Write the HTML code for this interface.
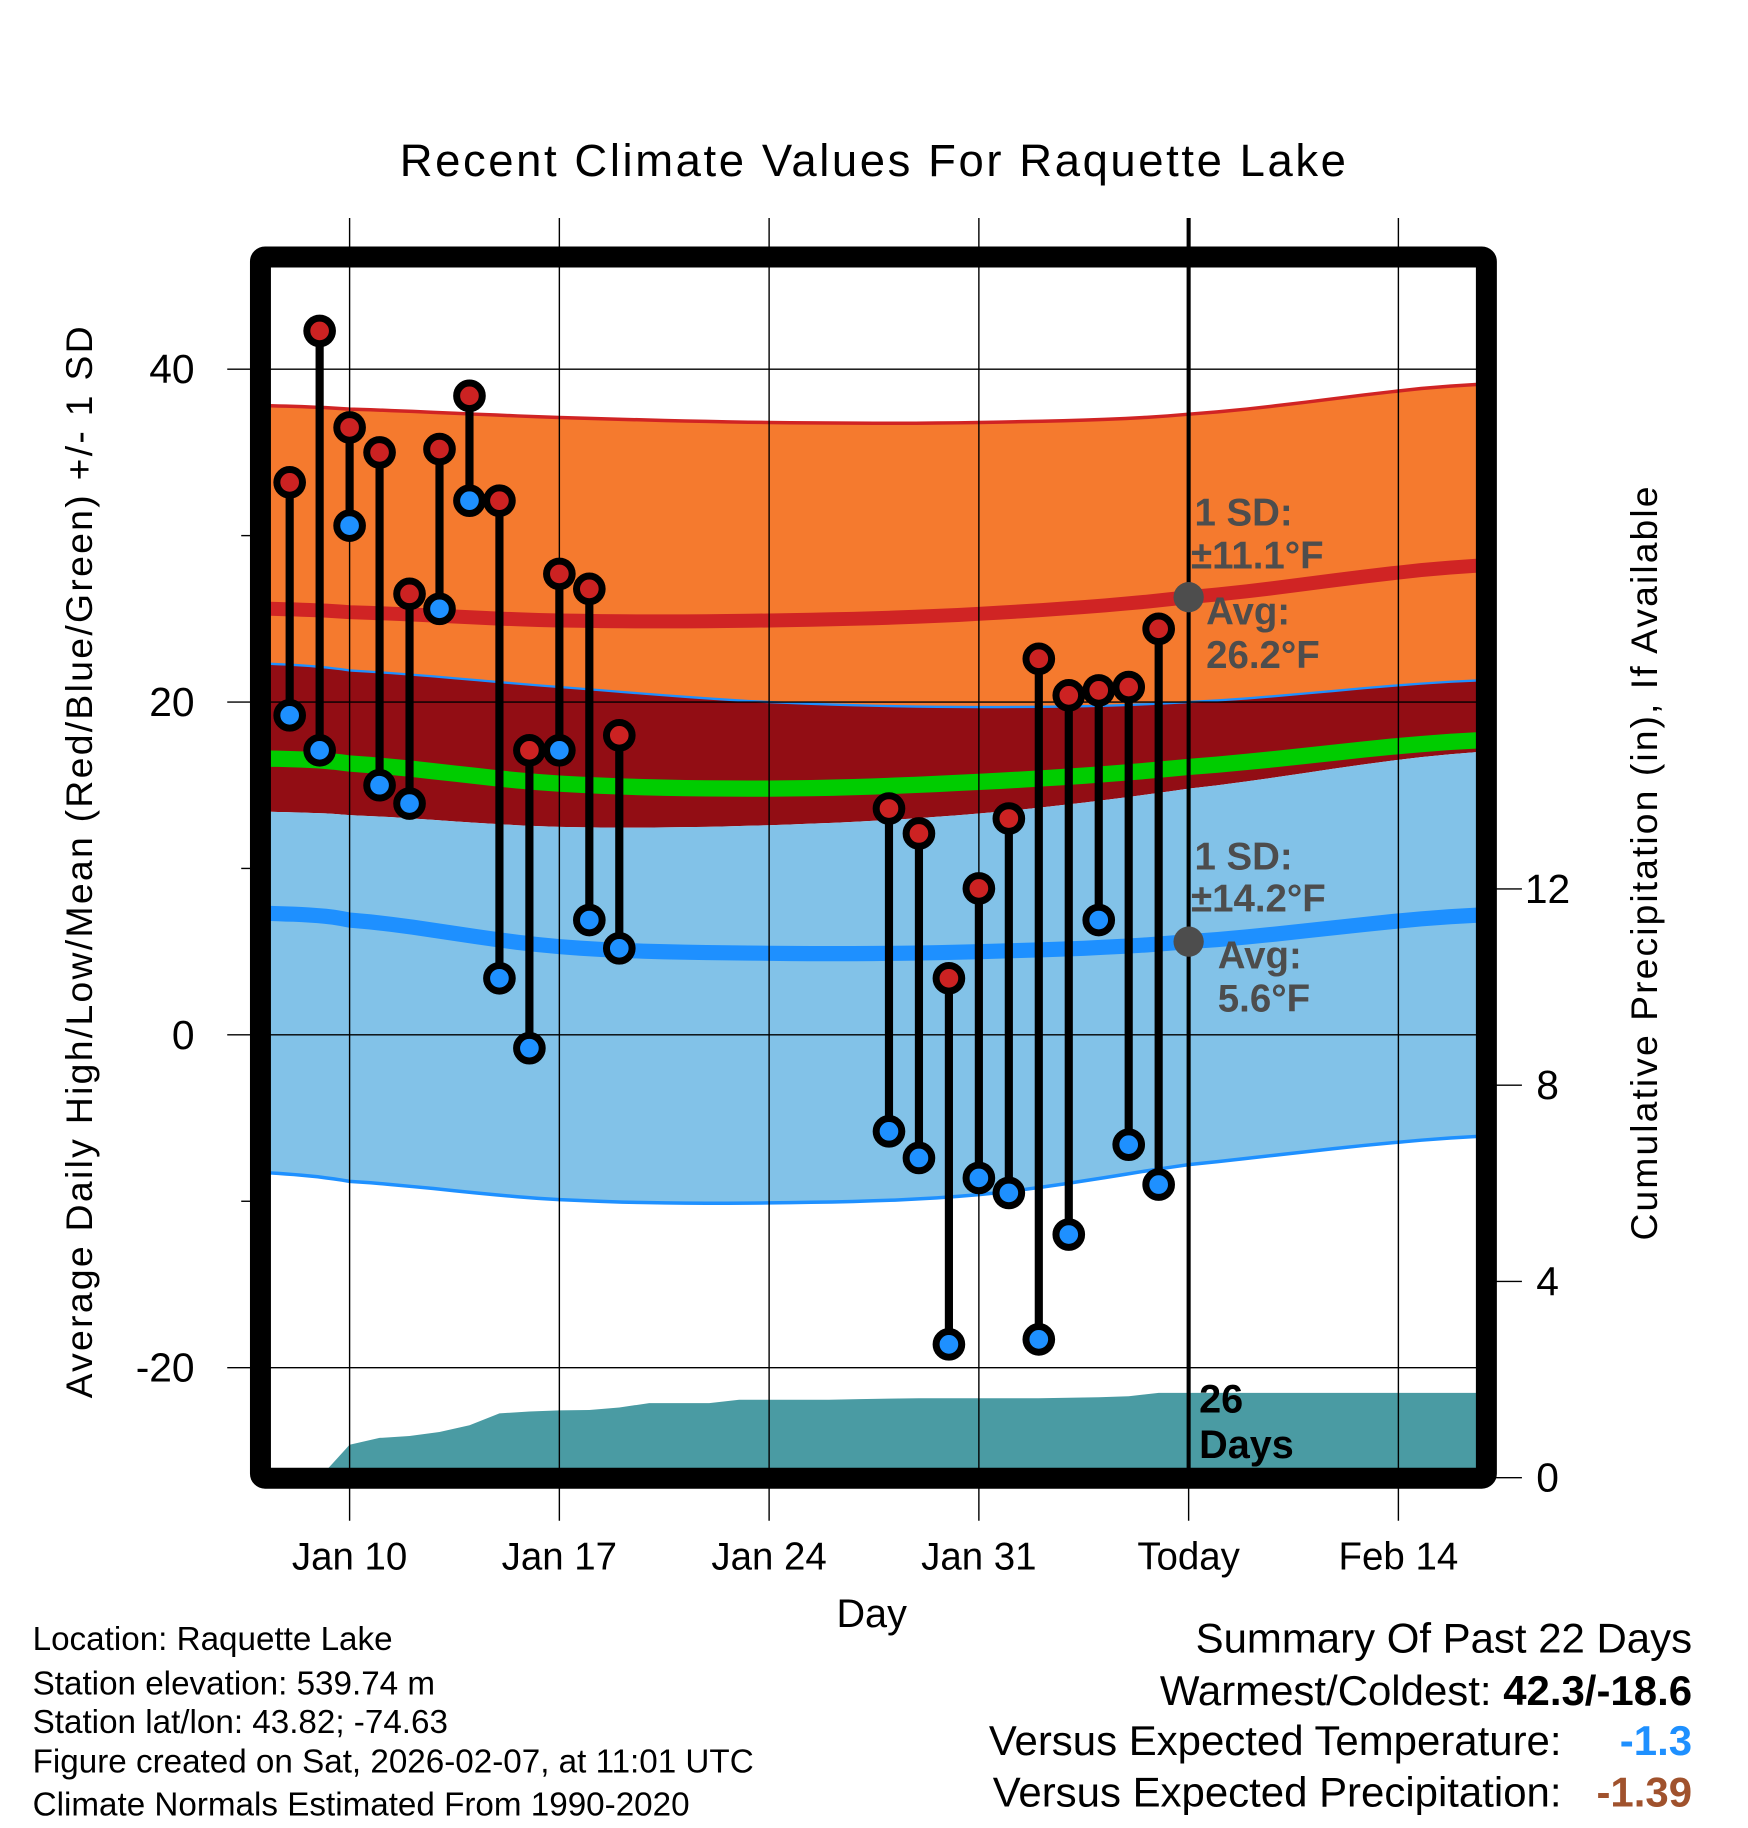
<!DOCTYPE html>
<html><head><meta charset="utf-8"><style>
html,body{margin:0;padding:0;background:#fff;}
svg{display:block;font-family:"Liberation Sans",Arial,sans-serif;}
</style></head><body>
<svg id="chart" width="1748" height="1828" viewBox="0 0 1500 1568.6" xmlns="http://www.w3.org/2000/svg">
<defs><clipPath id="plotclip"><rect x="232" y="232" width="1036" height="1028"/></clipPath></defs>
<rect x="0" y="0" width="1500" height="1568.6" fill="#fff"/>
<g id="layers" clip-path="url(#plotclip)"></g>
<g id="grid"></g>
<g id="marks"></g>
<g id="frame"></g>
<text x="749" y="151" font-size="39" text-anchor="middle" textLength="812">Recent Climate Values For Raquette Lake</text>
<text transform="translate(79,740) rotate(-90)" font-size="32" text-anchor="middle" textLength="920">Average Daily High/Low/Mean (Red/Blue/Green) +/- 1 SD</text>
<text transform="translate(1422,741) rotate(-90)" font-size="32" text-anchor="middle" textLength="647">Cumulative Precipitation (in), If Available</text>
<text x="748" y="1396" font-size="34" text-anchor="middle">Day</text>
<g font-size="28.5">
<text x="28" y="1416">Location: Raquette Lake</text>
<text x="28" y="1454">Station elevation: 539.74 m</text>
<text x="28" y="1487">Station lat/lon: 43.82; -74.63</text>
<text x="28" y="1521">Figure created on Sat, 2026-02-07, at 11:01 UTC</text>
<text x="28" y="1558">Climate Normals Estimated From 1990-2020</text>
</g>
<g font-size="36" text-anchor="end">
<text x="1452" y="1418">Summary Of Past 22 Days</text>
<text x="1452" y="1463">Warmest/Coldest: <tspan font-weight="bold">42.3/-18.6</tspan></text>
<text x="1340" y="1506">Versus Expected Temperature:</text>
<text x="1452" y="1506" fill="#1e90ff" font-weight="bold">-1.3</text>
<text x="1340" y="1550">Versus Expected Precipitation:</text>
<text x="1452" y="1550" fill="#a0522d" font-weight="bold">-1.39</text>
</g>
</svg>
<script>
// days relative to Jan 10
const obsDays=[-2,-1,0,1,2,3,4,5,6,7,8,9,18,19,20,21,22,23,24,25,26,27];
const obsHigh=[33.2,42.3,36.5,35.0,26.5,35.2,38.4,32.1,17.1,27.7,26.8,18.0,13.6,12.1,3.4,8.8,13.0,22.6,20.4,20.7,20.9,24.4];
const obsLow=[19.2,17.1,30.6,15.0,13.9,25.6,32.1,3.4,-0.8,17.1,6.9,5.2,-5.8,-7.4,-18.6,-8.6,-9.5,-18.3,-12.0,6.9,-6.6,-9.0];
const normDays=[-2.65,0,7,14,21,28,37.7];
const hiTop=[37.8,37.6,37.1,36.8,36.8,37.3,39.1];
const hiAvg=[25.6,25.4,24.9,24.9,25.3,26.3,28.2];
const hiBot=[22.3,21.9,20.9,20.0,19.7,20.0,21.3];
const meanAvg=[16.6,16.3,15.1,14.8,15.2,16.1,17.7];
const loTop=[13.4,13.2,12.5,12.6,13.3,14.8,17.0];
const loAvg=[7.3,6.9,5.3,4.9,5.0,5.6,7.2];
const loBot=[-8.3,-8.8,-9.9,-10.1,-9.6,-7.8,-6.1];
const precipStartDay=-1;
const precipCum=[0,0.67,0.81,0.85,0.93,1.07,1.31,1.35,1.37,1.38,1.43,1.52,1.52,1.52,1.59,1.59,1.59,1.59,1.60,1.61,1.62,1.62,1.62,1.62,1.62,1.63,1.64,1.66,1.73];
const xTickDays=[0,7,14,21,28,35];
const xTickLabels=["Jan 10","Jan 17","Jan 24","Jan 31","Today","Feb 14"];
const yTicks=[-20,0,20,40];
const y2Ticks=[0,4,8,12];

const NS="http://www.w3.org/2000/svg";
const X=d=>300+d*25.714;
const Y=v=>888-v*14.28;
const Y2=p=>1268-p*42.1;
function mk(tag,attrs,parent){const e=document.createElementNS(NS,tag);for(const k in attrs)e.setAttribute(k,attrs[k]);parent.appendChild(e);return e;}
function curvePts(vals){const pts=[];for(let i=0;i<normDays.length-1;i++){for(let s=0;s<10;s++){const t=s/10;const p0=vals[Math.max(i-1,0)],p1=vals[i],p2=vals[i+1],p3=vals[Math.min(i+2,vals.length-1)];const v=0.5*((2*p1)+(-p0+p2)*t+(2*p0-5*p1+4*p2-p3)*t*t+(-p0+3*p1-3*p2+p3)*t*t*t);const d=normDays[i]+(normDays[i+1]-normDays[i])*t;pts.push([X(d),Y(v)]);}}pts.push([X(normDays[normDays.length-1]),Y(vals[vals.length-1])]);return pts;}
function band(a,b){const A=curvePts(a),B=curvePts(b).reverse();return A.concat(B).map(p=>p[0].toFixed(1)+","+p[1].toFixed(1)).join(" ");}
function line(a){return curvePts(a).map(p=>p[0].toFixed(1)+","+p[1].toFixed(1)).join(" ");}
const L=document.getElementById('layers');
let e;
e=mk('polygon',{points:band(hiTop,hiBot),fill:'#f57a2e'},L);


e=mk('polygon',{points:band(hiBot,loTop),fill:'#920d14'},L);


e=mk('polygon',{points:band(loTop,loBot),fill:'#82c2e8'},L);


e=mk('polyline',{points:line(hiTop),fill:'none',stroke:'#d02424','stroke-width':3},L);


e=mk('polyline',{points:line(hiBot),fill:'none',stroke:'#1e90ff','stroke-width':2},L);


e=mk('polyline',{points:line(loBot),fill:'none',stroke:'#1e90ff','stroke-width':3},L);


e=mk('polyline',{points:line(hiAvg),fill:'none',stroke:'#d02424','stroke-width':12},L);


e=mk('polyline',{points:line(meanAvg),fill:'none',stroke:'#00cc00','stroke-width':14},L);


e=mk('polyline',{points:line(loAvg),fill:'none',stroke:'#1e90ff','stroke-width':13},L);


let pp=[[X(precipStartDay),1262]];
precipCum.forEach((p,i)=>pp.push([X(precipStartDay+i),Y2(p)]));
pp.push([1270,Y2(precipCum[precipCum.length-1])]);pp.push([1270,1262]);
e=mk('polygon',{points:pp.map(p=>p[0].toFixed(1)+","+p[1].toFixed(1)).join(" "),fill:'#4a9ba3'},L);


const G=document.getElementById('grid');
xTickDays.forEach((d,i)=>{
  e=mk('line',{x1:X(d),x2:X(d),y1:187,y2:1305,stroke:'#000','stroke-width':1.2},G);
  
  
  e=mk('text',{x:X(d),y:1347,'font-size':33,'text-anchor':'middle'},G);e.textContent=xTickLabels[i];
  
  
});
yTicks.forEach(v=>{
  e=mk('line',{x1:195,x2:1268,y1:Y(v),y2:Y(v),stroke:'#000','stroke-width':1.2},G);
  
  
  e=mk('text',{x:167,y:Y(v)+12,'font-size':35,'text-anchor':'end'},G);e.textContent=v;
  
  
});
[-10,10,30].forEach(v=>{mk('line',{x1:207,x2:220,y1:Y(v),y2:Y(v),stroke:'#000','stroke-width':1.2},G);});
y2Ticks.forEach(p=>{
  mk('line',{x1:1280,x2:1306,y1:Y2(p),y2:Y2(p),stroke:'#000','stroke-width':1.2},G);
  e=mk('text',{x:1328,y:Y2(p)+12,'font-size':35,'text-anchor':'middle'},G);e.textContent=p;
  
  
});
e=mk('line',{x1:X(28),x2:X(28),y1:187,y2:1262,stroke:'#000','stroke-width':3.5},G);


const M=document.getElementById('marks');
obsDays.forEach((d,i)=>{
  const x=X(d);
  e=mk('line',{x1:x,x2:x,y1:Y(obsHigh[i]),y2:Y(obsLow[i]),stroke:'#000','stroke-width':7},M);
  
  
  e=mk('circle',{cx:x,cy:Y(obsHigh[i]),r:11,fill:'#cc2222',stroke:'#000','stroke-width':6},M);
  
  
  e=mk('circle',{cx:x,cy:Y(obsLow[i]),r:11,fill:'#1e90ff',stroke:'#000','stroke-width':6},M);
  
  
});
const todayHi=hiAvg[5], todayLo=loAvg[5];
e=mk('circle',{cx:X(28),cy:Y(todayHi),r:13,fill:'#4d4d4d'},M);


e=mk('circle',{cx:X(28),cy:Y(todayLo),r:13,fill:'#4d4d4d'},M);


const ann=[["1 SD:",1025,451],["±11.1°F",1022,488],["Avg:",1035,536],["26.2°F",1035,573],["1 SD:",1025,746],["±14.2°F",1022,782],["Avg:",1045,831],["5.6°F",1045,868]];
ann.forEach(a=>{e=mk('text',{x:a[1],y:a[2],'font-size':33,'font-weight':'bold',fill:'#4d4d4d'},M);e.textContent=a[0];
  
  });
[["26",1212],["Days",1251]].forEach(a=>{e=mk('text',{x:1029,y:a[1],'font-size':34,'font-weight':'bold',fill:'#000'},M);e.textContent=a[0];
  
  });
e=mk('rect',{x:223.5,y:220.5,width:1052,height:1048,fill:'none',stroke:'#000','stroke-width':18,rx:4},document.getElementById('frame'));


</script>
</body></html>
